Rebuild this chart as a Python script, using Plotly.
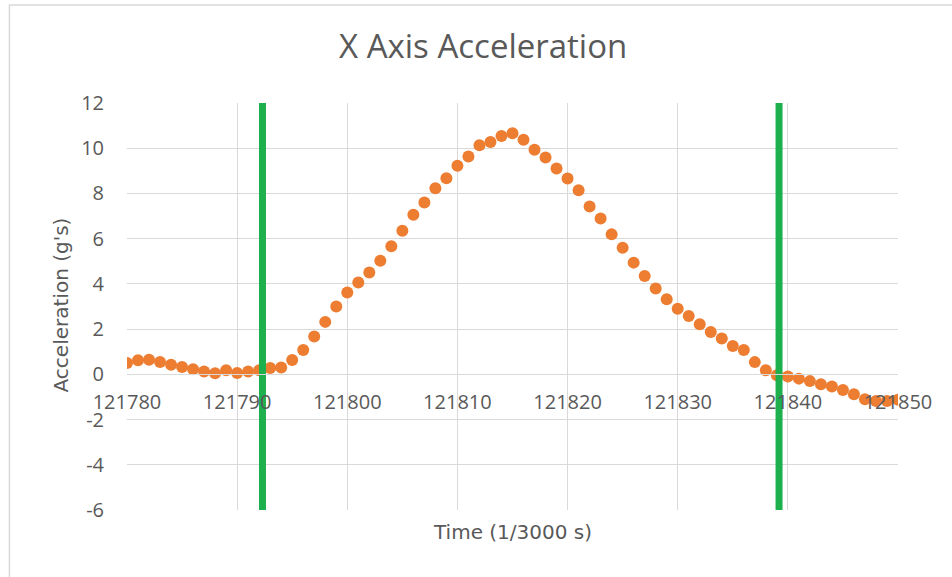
import plotly.graph_objects as go

# ---- data ----
time_ticks = list(range(121780, 121851))
acceleration = [
    0.50, 0.62, 0.65, 0.55, 0.42, 0.32, 0.23, 0.13, 0.05, 0.18,
    0.06, 0.13, 0.18, 0.28, 0.30, 0.63, 1.08, 1.67, 2.32, 3.00,
    3.62, 4.06, 4.50, 5.02, 5.66, 6.35, 7.06, 7.60, 8.23, 8.67,
    9.22, 9.63, 10.13, 10.28, 10.54, 10.66, 10.37, 9.93, 9.59, 9.10,
    8.66, 8.14, 7.42, 6.89, 6.19, 5.60, 4.94, 4.35, 3.80, 3.32,
    2.90, 2.58, 2.21, 1.87, 1.58, 1.25, 1.08, 0.54, 0.18, -0.04,
    -0.10, -0.19, -0.30, -0.44, -0.54, -0.69, -0.88, -1.10, -1.18, -1.18,
    -1.12,
]
marker_lines = [121792.3, 121839.2]
y_span = [-6, 12]
x_tick_vals = [121780, 121790, 121800, 121810, 121820, 121830, 121840, 121850]
y_tick_vals = [-6, -4, -2, 0, 2, 4, 6, 8, 10, 12]

FONT = "Open Sans, sans-serif"
TITLE_FONT = "DejaVu Sans, sans-serif"
GREY = "#595959"
GRID = "#D9D9D9"

fig = go.Figure()
fig.add_trace(go.Scatter(
    x=time_ticks, y=acceleration, mode="markers",
    marker=dict(color="#ED7D31", size=12, line=dict(width=0)),
    showlegend=False, hoverinfo="x+y",
))
for xv in marker_lines:
    fig.add_trace(go.Scatter(
        x=[xv, xv], y=y_span, mode="lines",
        line=dict(color="#1FB04E", width=7),
        showlegend=False, hoverinfo="skip",
    ))

fig.update_layout(
    width=952, height=577,
    margin=dict(l=127, r=54, t=103, b=67),
    paper_bgcolor="white", plot_bgcolor="white",
    font=dict(family=FONT, color=GREY, size=20),
    xaxis=dict(
        range=[121780, 121850], tickvals=x_tick_vals,
        ticktext=[str(v) for v in x_tick_vals],
        showgrid=True, gridcolor=GRID, gridwidth=1,
        zeroline=False, showline=True, linecolor=GRID,
        anchor="free", position=1/3, ticks="",
        ticklabelstandoff=10,
        tickfont=dict(size=20, color=GREY, family=FONT),
    ),
    yaxis=dict(
        range=[-6, 12], tickvals=y_tick_vals,
        ticktext=[str(v) for v in y_tick_vals],
        showgrid=True, gridcolor=GRID, gridwidth=1,
        zeroline=False, showline=False, ticks="",
        ticklabelstandoff=22,
        tickfont=dict(size=20, color=GREY, family=FONT),
    ),
    shapes=[dict(
        type="rect", xref="paper", yref="paper",
        x0=(10 - 127.5) / 770.5, x1=(960 - 127.5) / 770.5,
        y0=(510 - 585) / 407, y1=(510 - 5) / 407,
        line=dict(color=GRID, width=1.5), fillcolor="rgba(0,0,0,0)",
        layer="below",
    )],
    annotations=[
        dict(text="X Axis Acceleration", xref="paper", yref="paper",
             x=(483 - 127.5) / 770.5, y=(510 - 46) / 407,
             xanchor="center", yanchor="middle", showarrow=False,
             font=dict(size=33, color=GREY, family=FONT)),
        dict(text="Time (1/3000 s)", xref="paper", yref="paper",
             x=(512.7 - 127.5) / 770.5, y=(510 - 532) / 407,
             xanchor="center", yanchor="middle", showarrow=False,
             font=dict(size=20, color=GREY, family=TITLE_FONT)),
        dict(text="Acceleration (g's)", xref="paper", yref="paper",
             x=(62 - 127.5) / 770.5, y=(510 - 305) / 407,
             xanchor="center", yanchor="middle", showarrow=False,
             textangle=-90,
             font=dict(size=20, color=GREY, family=TITLE_FONT)),
    ],
)

fig.write_html("out.html")
